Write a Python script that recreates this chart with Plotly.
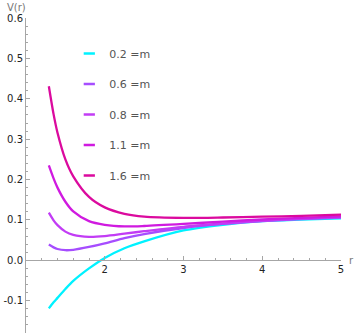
import plotly.graph_objects as go

# ---- data ----
r_vals = [1.29, 1.35, 1.4, 1.5, 1.6, 1.8, 2.0, 2.25, 2.5, 3.0, 3.5, 4.0, 4.5, 5.0]
V_m02 = [-0.119, -0.104, -0.093, -0.071, -0.051, -0.020, 0.006, 0.030, 0.047, 0.074, 0.088, 0.097, 0.101, 0.104]
V_m06 = [0.039, 0.032, 0.028, 0.025, 0.026, 0.033, 0.042, 0.055, 0.065, 0.080, 0.090, 0.097, 0.102, 0.106]
V_m08 = [0.118, 0.099, 0.087, 0.071, 0.063, 0.058, 0.060, 0.066, 0.072, 0.083, 0.091, 0.098, 0.103, 0.107]
V_m11 = [0.235, 0.203, 0.180, 0.145, 0.121, 0.097, 0.088, 0.084, 0.085, 0.090, 0.096, 0.101, 0.105, 0.109]
V_m16 = [0.431, 0.362, 0.316, 0.250, 0.208, 0.157, 0.131, 0.115, 0.108, 0.105, 0.106, 0.108, 0.110, 0.113]

series_names = ["0.2 =m", "0.6 =m", "0.8 =m", "1.1 =m", "1.6 =m"]
series_vals = [V_m02, V_m06, V_m08, V_m11, V_m16]
colors = ["#00F2FF", "#A64DFF", "#C23CF5", "#D01AE0", "#DB0A9E"]

x_ticks = [2, 3, 4, 5]
x_ticktext = ["2", "3", "4", "5"]
y_ticks = [-0.1, 0.0, 0.1, 0.2, 0.3, 0.4, 0.5, 0.6]
y_ticktext = ["-0.1", "0.0", "0.1", "0.2", "0.3", "0.4", "0.5", "0.6"]

x_range = [1, 5]
y_range = [-0.18, 0.6]

W, H = 354, 335
L, R, T, B = 26, 341, 17.5, 333.3  # plot area in pixels


def px(xp):
    return (xp - L) / (R - L)


def py(yp):
    return 1 - (yp - T) / (B - T)


fig = go.Figure()
for name, vals, col in zip(series_names, series_vals, colors):
    fig.add_trace(go.Scatter(x=r_vals, y=vals, mode="lines", name=name,
                             line=dict(color=col, width=2.3, shape="spline", smoothing=0.8),
                             showlegend=False, hoverinfo="skip"))
# legend entries (short line glyphs like the original)
for i, (name, col) in enumerate(zip(series_names, colors)):
    fig.add_trace(go.Scatter(x=[None], y=[None], mode="markers", name=name,
                             legendgroup=str(i),
                             marker=dict(symbol="line-ew", size=8, color=col,
                                         line=dict(color=col, width=2.5))))

axis_col = "#a6a6a6"
fig.update_layout(
    template="none",
    width=W, height=H,
    margin=dict(l=L, r=W - R, t=T, b=H - B, autoexpand=False),
    paper_bgcolor="white", plot_bgcolor="white",
    font=dict(family="DejaVu Sans", size=10, color="#222"),
    legend=dict(x=px(69.3), y=py(38.5), xanchor="left", yanchor="top",
                bgcolor="rgba(0,0,0,0)", tracegroupgap=11.5, borderwidth=0,
                font=dict(family="DejaVu Sans", size=11, color="#555")),
    xaxis=dict(range=x_range, anchor="free", position=(0 - y_range[0]) / (y_range[1] - y_range[0]),
               automargin=False,
               showline=True, linecolor=axis_col, linewidth=1,
               showgrid=False, zeroline=False,
               tickmode="array", tickvals=x_ticks, ticktext=x_ticktext,
               ticks="inside", ticklen=4, tickcolor=axis_col, tickwidth=1,
               minor=dict(dtick=0.2, tick0=0, ticks="inside", ticklen=2, tickcolor=axis_col, showgrid=False),
               tickfont=dict(size=10, color="#222")),
    yaxis=dict(range=y_range, automargin=False,
               showline=True, linecolor=axis_col, linewidth=1,
               showgrid=False, zeroline=False,
               tickmode="array", tickvals=y_ticks, ticktext=y_ticktext,
               ticks="inside", ticklen=4, tickcolor=axis_col, tickwidth=1,
               minor=dict(dtick=0.02, tick0=0, ticks="inside", ticklen=2, tickcolor=axis_col, showgrid=False),
               tickfont=dict(size=10, color="#222")),
    annotations=[
        dict(text="V(r)", xref="paper", yref="paper", x=px(5), y=py(7),
             xanchor="left", yanchor="middle", showarrow=False,
             font=dict(size=10, color="#777")),
        dict(text="r", xref="paper", yref="paper", x=px(346.5), y=py(261),
             xanchor="left", yanchor="middle", showarrow=False,
             font=dict(size=10, color="#777")),
    ],
)
# remove the browser's default 8px body margin so the figure fills the window
fig.write_html("out.html", config={"displayModeBar": False},
               post_script="document.body.style.margin='0px';")
